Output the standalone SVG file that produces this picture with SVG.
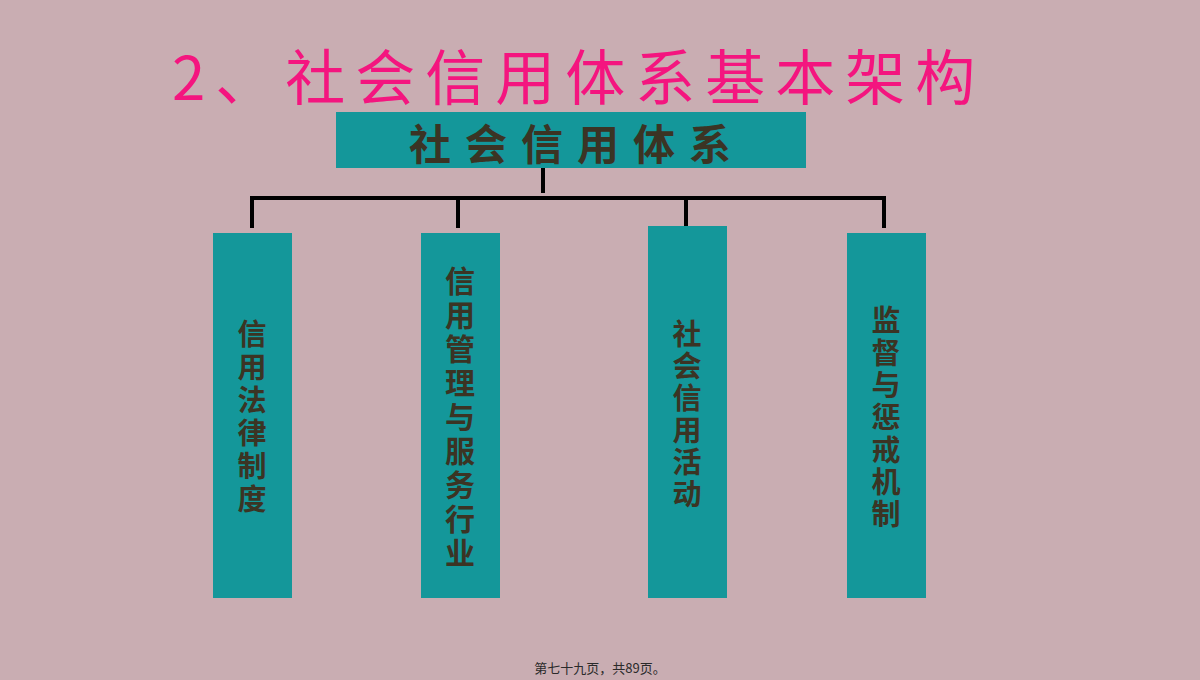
<svg xmlns="http://www.w3.org/2000/svg" width="1200" height="680" viewBox="0 0 1200 680">
<style>
.cjk{font-family:"Noto Sans CJK SC","Noto Sans",sans-serif}
.box{fill:#14979a}
.lbl{fill:#3b3424;font-weight:bold;text-anchor:middle}
.vert{writing-mode:vertical-rl;text-orientation:upright}
.conn{stroke:#000;stroke-width:4;fill:none}
</style>
<rect width="1200" height="680" fill="#c9adb2"/>
<text class="cjk" x="172" y="100" style="font-size:60px;letter-spacing:10px" fill="#f4157f">2、社会信用体系基本架构</text>
<g id="connectors">
<path class="conn" d="M543 168V193M250 198H886M252 198V228M458 198V228M686 198V228M884 198V228"/>
</g>
<g id="root">
<rect class="box" x="336" y="112" width="470" height="56"/>
<text class="cjk lbl" x="577" y="160" style="font-size:42px;letter-spacing:14px">社会信用体系</text>
</g>
<g id="n1">
<rect class="box" x="213" y="233" width="79" height="365"/>
<text class="cjk lbl vert" x="252" y="418" style="font-size:29px;letter-spacing:4px">信用法律制度</text>
</g>
<g id="n2">
<rect class="box" x="421" y="233" width="79" height="365"/>
<text class="cjk lbl vert" x="460" y="419" style="font-size:30px;letter-spacing:4px">信用管理与服务行业</text>
</g>
<g id="n3">
<rect class="box" x="648" y="226" width="79" height="372"/>
<text class="cjk lbl vert" x="687" y="415" style="font-size:29px;letter-spacing:3px">社会信用活动</text>
</g>
<g id="n4">
<rect class="box" x="847" y="233" width="79" height="365"/>
<text class="cjk lbl vert" x="886" y="419" style="font-size:29px;letter-spacing:3.3px">监督与惩戒机制</text>
</g>
<text class="cjk" x="600" y="673" font-size="13" fill="#2a2a2a" text-anchor="middle">第七十九页，共89页。</text>
</svg>
